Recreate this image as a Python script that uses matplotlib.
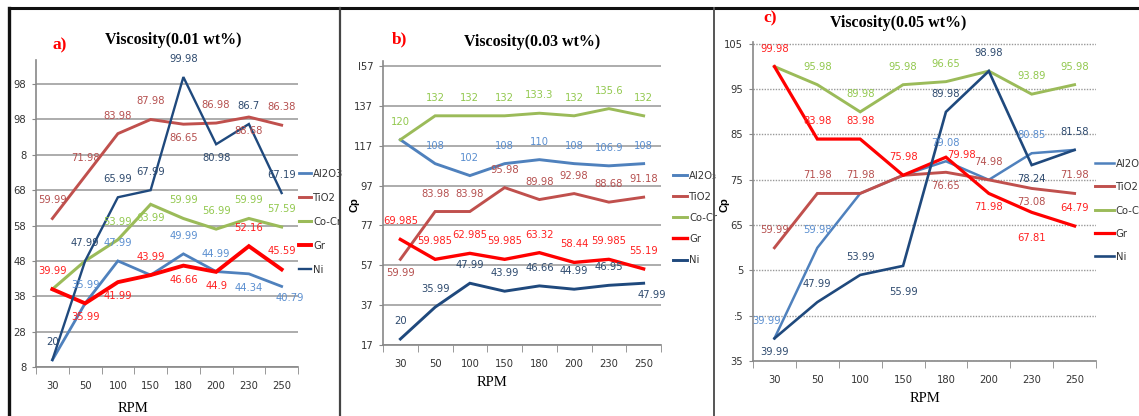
import matplotlib.pyplot as plt
from matplotlib.lines import Line2D
from matplotlib import font_manager

rpm = ['30', '50', '100', '150', '180', '200', '230', '250']
names = ['Al2O3', 'TiO2', 'Co-Cr', 'Gr', 'Ni']

# a) 0.01 wt%
al2o3_a = [20, 35.99, 47.99, 43.99, 49.99, 44.99, 44.34, 40.79]
tio2_a = [59.99, 71.98, 83.98, 87.98, 86.65, 86.98, 88.68, 86.38]
cocr_a = [39.99, 47.99, 53.99, 63.99, 59.99, 56.99, 59.99, 57.59]
gr_a = [39.99, 35.99, 41.99, 43.99, 46.66, 44.9, 52.16, 45.59]
ni_a = [20, 47.99, 65.99, 67.99, 99.98, 80.98, 86.7, 67.19]
yticks_a = [18, 28, 38, 48, 58, 68, 78, 88, 98]
ylabels_a = ['8', '28', '38', '48', '58', '68', '8', '98', '98']

# b) 0.03 wt%
al2o3_b = [120, 108, 102, 108, 110, 108, 106.9, 108]
tio2_b = [59.99, 83.98, 83.98, 95.98, 89.98, 92.98, 88.68, 91.18]
cocr_b = [120, 132, 132, 132, 133.3, 132, 135.6, 132]
gr_b = [69.985, 59.985, 62.985, 59.985, 63.32, 58.44, 59.985, 55.19]
ni_b = [20, 35.99, 47.99, 43.99, 46.66, 44.99, 46.95, 47.99]
yticks_b = [17, 37, 57, 77, 97, 117, 137, 157]
ylabels_b = ['17', '37', '57', '77', '97', '117', '137', 'l57']

# c) 0.05 wt%
al2o3_c = [39.99, 59.98, 71.98, 75.98, 79.08, 74.98, 80.85, 81.58]
tio2_c = [59.99, 71.98, 71.98, 75.98, 76.65, 74.98, 73.08, 71.98]
cocr_c = [99.98, 95.98, 89.98, 95.98, 96.65, 98.98, 93.89, 95.98]
gr_c = [99.98, 83.98, 83.98, 75.98, 79.98, 71.98, 67.81, 64.79]
ni_c = [39.99, 47.99, 53.99, 55.99, 89.98, 98.98, 78.24, 81.58]
yticks_c = [35, 45, 55, 65, 75, 85, 95, 105]
ylabels_c = ['35', ':5', '5', '65', '75', '85', '95', '105']

line_colors = ['#4F81BD', '#C0504D', '#9BBB59', '#FF0000', '#1F497D']
label_colors = ['#5B8FD0', '#B5504F', '#92C84E', '#FF2020', '#2E4A6E']

# where each value label goes: a=above, b=below, B=far below, r=right, l=above left, R=below right, -=none
offsets = {'a': (0, 18), 'b': (0, -14), 'B': (0, -26), 'r': (16, 2),
           'l': (-8, 17), 'R': (8, -12)}

# pick a narrow sans if one is installed
fonts = font_manager.fontManager.ttflist
if any(f.name == 'Liberation Sans Narrow' for f in fonts):
    small = dict(family=['Liberation Sans Narrow', 'DejaVu Sans'], stretch='normal')
    fs = 9
elif any(f.name == 'DejaVu Sans' and f.stretch == 'condensed' for f in fonts):
    small = dict(family=['DejaVu Sans'], stretch='condensed')
    fs = 8
else:
    small = dict(family=['Liberation Sans', 'DejaVu Sans'], stretch='normal')
    fs = 7.5
serif = ['Liberation Serif', 'DejaVu Serif']

W, H = 1139, 416
fig = plt.figure(figsize=(W / 100, H / 100), dpi=100)


def rect(l, r, t, b):
    return [l / W, 1 - b / H, (r - l) / W, (b - t) / H]


def draw_panel(box, data, places, widths, yticks, ylabels, ylim, grid_ls,
               title, tag, title_xy, tag_xy, rpm_xy, cp_xy, leg_xy, leg_kw,
               leg_names):
    ax = fig.add_axes(rect(*box))
    for i, vals in enumerate(data):
        ax.plot(rpm, vals, color=line_colors[i], lw=widths[i],
                label=leg_names[i], solid_joinstyle='miter', zorder=3)
        for j, v in enumerate(vals):
            p = places[i][j]
            if p == '-':
                continue
            ax.annotate(f'{v:g}', (j, v), xytext=offsets[p],
                        textcoords='offset pixels', ha='center', va='center',
                        color=label_colors[i], fontsize=fs, zorder=4, **small)
    ax.set_xlim(-0.5, 7.5)
    ax.set_ylim(*ylim)
    ax.set_yticks(yticks)
    ax.set_yticklabels(ylabels, fontsize=fs, color='#333333', **small)
    ax.set_xticks(range(8))
    ax.set_xticklabels(rpm, fontsize=fs, color='#333333', **small)
    ax.set_xticks([k - 0.5 for k in range(9)], minor=True)
    ax.tick_params(axis='x', which='major', length=0, pad=10)
    ax.tick_params(axis='x', which='minor', length=5, color='#888888')
    ax.tick_params(axis='y', length=3, color='#888888', pad=4)
    for s in ['top', 'right']:
        ax.spines[s].set_visible(False)
    for s in ['left', 'bottom']:
        ax.spines[s].set_color('#888888')
        ax.spines[s].set_linewidth(1.2)
    if grid_ls == '-':
        ax.yaxis.grid(True, color='#A6A6A6', lw=1.3)
    else:
        ax.yaxis.grid(True, color='#999999', lw=1.0, ls=(0, (1, 1)))
    ax.set_axisbelow(True)
    fig.text(title_xy[0] / W, 1 - title_xy[1] / H, title, ha='center',
             va='center', fontsize=11.5, weight='bold', family=serif)
    fig.text(tag_xy[0] / W, 1 - tag_xy[1] / H, tag, ha='center', va='center',
             fontsize=12.5, weight='bold', family=serif, color='#FF0000')
    fig.text(rpm_xy[0] / W, 1 - rpm_xy[1] / H, 'RPM', ha='center',
             va='center', fontsize=10.5, family=serif)
    if cp_xy:
        fig.text(cp_xy[0] / W, 1 - cp_xy[1] / H, 'Cp', ha='center',
                 va='center', fontsize=8, weight='bold', rotation=90,
                 family=['Liberation Sans', 'DejaVu Sans'])
    leg = ax.legend(loc='upper left', bbox_to_anchor=(leg_xy[0] / W, 1 - leg_xy[1] / H),
                    bbox_transform=fig.transFigure, frameon=False,
                    borderpad=0, borderaxespad=0, handletextpad=0.15,
                    prop=dict(size=fs, **small), **leg_kw)
    for t in leg.get_texts():
        t.set_color('#333333')
    return ax


draw_panel((36, 298, 60, 367),
           [al2o3_a, tio2_a, cocr_a, gr_a, ni_a],
           ['-aa-aabR', 'aaaababa', '--abaaaa', 'abbabbaa', 'aaaaaba a'.replace(' ', '')],
           [2.0, 2.1, 2.2, 2.8, 1.7],
           yticks_a, ylabels_a, (18, 104.8), '-',
           'Viscosity(0.01 wt%)', 'a)', (173, 40), (60, 45), (133, 409), None,
           (299, 169), dict(handlelength=1.1, labelspacing=1.25), names)

draw_panel((383, 661, 61, 345),
           [al2o3_b, tio2_b, cocr_b, gr_b, ni_b],
           ['-aaaaaaa', 'baaaaaaa', 'aaaaaaaa', 'aaaaaaaa', 'aaaaaaaR'],
           [2.1, 2.1, 2.1, 2.4, 2.1],
           yticks_b, ylabels_b, (17, 159.5), '-',
           'Viscosity(0.03 wt%)', 'b)', (532, 42), (399, 39), (492, 383), (355, 205),
           (673, 171), dict(handlelength=1.3, labelspacing=1.0),
           ['Al2O\u2083', 'TiO2', 'Co-Cr', 'Gr', 'Ni'])

draw_panel((753, 1096, 42, 361),
           [al2o3_c, tio2_c, cocr_c, gr_c, ni_c],
           ['la--a-a-', 'aaa-bab a'.replace(' ', ''), '-aaaa-aa', 'aaaarbBa', 'baaBaaba'],
           [1.8, 2.1, 2.1, 2.3, 1.9],
           yticks_c, ylabels_c, (35, 105.4), ':',
           'Viscosity(0.05 wt%)', 'c)', (898, 23), (770, 18), (925, 398), (725, 205),
           (1095, 159), dict(handlelength=1.7, labelspacing=1.2), names)

# panel frames
def frame(x0, y0, x1, y1, lw, color):
    fig.add_artist(Line2D([x0 / W, x1 / W], [1 - y0 / H, 1 - y1 / H],
                          transform=fig.transFigure, lw=lw, color=color))

frame(9, 8, W, 8, 2.2, '#111111')
frame(9, 8, 9, H, 2.4, '#111111')
frame(339.5, 8, 339.5, H, 1.6, '#444444')
frame(714, 8, 714, H, 1.4, '#555555')

fig.savefig('out.png', dpi=100)
